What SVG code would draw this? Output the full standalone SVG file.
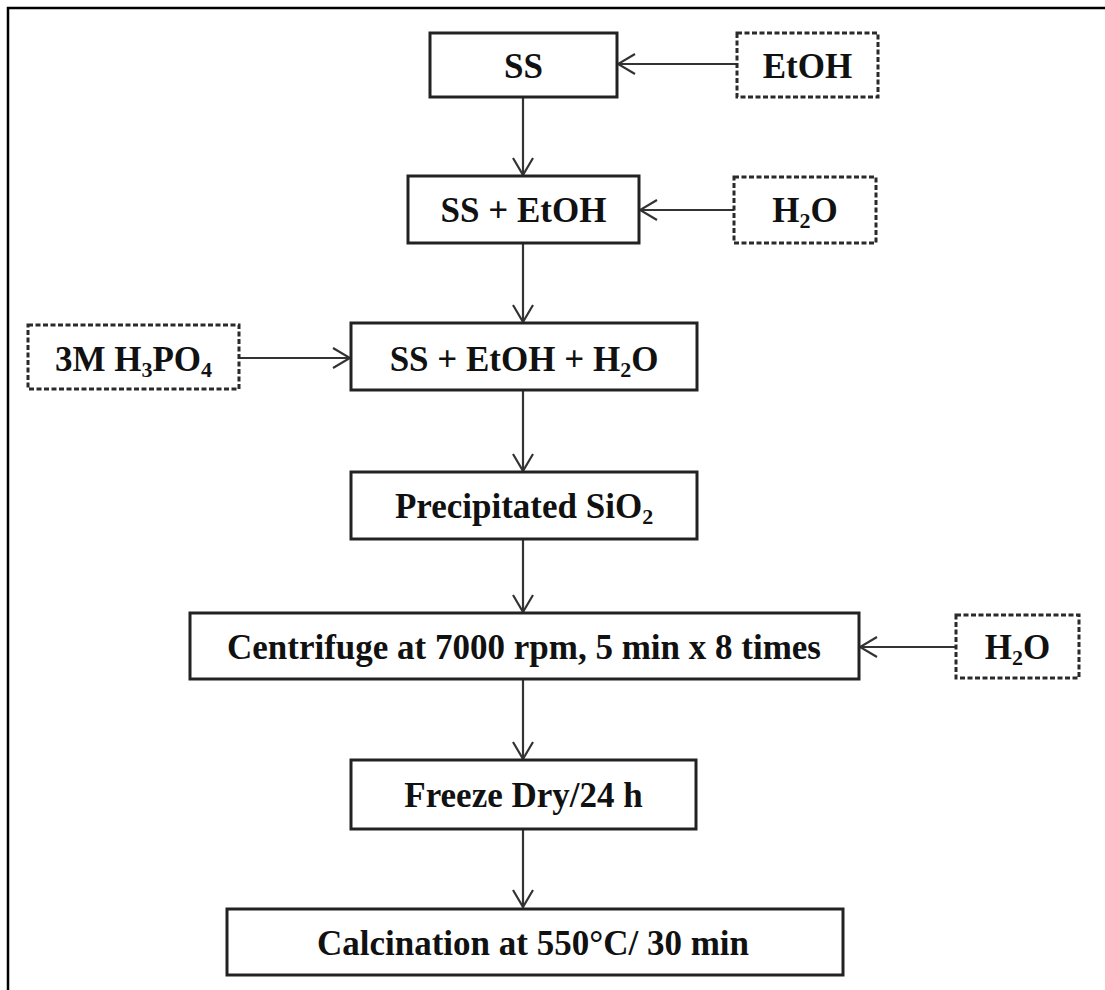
<svg xmlns="http://www.w3.org/2000/svg" width="1105" height="990" viewBox="0 0 1105 990">
<style>
.box{fill:#fff;stroke:#222;stroke-width:3}
.dash{fill:#fff;stroke:#2a2a2a;stroke-width:3;stroke-dasharray:5 2.5}
.t{font-family:"Liberation Serif","Times New Roman",serif;font-weight:bold;font-size:35px;fill:#111;text-anchor:middle}
.sub{font-size:22px}
.c{stroke:#333;stroke-width:2.2;fill:none}
</style>
<defs>
<marker id="ah" viewBox="-20 -12 22 24" refX="0" refY="0" markerWidth="22" markerHeight="24" markerUnits="userSpaceOnUse" orient="auto">
<path d="M-17,-10 L0,0 L-17,10" fill="none" stroke="#333" stroke-width="2.2"/>
</marker>
</defs>
<rect width="1105" height="990" fill="#fff"/>
<path d="M8,990 V8 H1105" fill="none" stroke="#000" stroke-width="2.5"/>

<g id="connectors">
<line class="c" x1="737" y1="64" x2="618" y2="64" marker-end="url(#ah)"/>
<line class="c" x1="523" y1="97" x2="523" y2="175" marker-end="url(#ah)"/>
<line class="c" x1="734" y1="210" x2="640" y2="210" marker-end="url(#ah)"/>
<line class="c" x1="523" y1="243" x2="523" y2="322" marker-end="url(#ah)"/>
<line class="c" x1="239" y1="358" x2="350" y2="358" marker-end="url(#ah)"/>
<line class="c" x1="523" y1="390" x2="523" y2="471" marker-end="url(#ah)"/>
<line class="c" x1="523" y1="539" x2="523" y2="612" marker-end="url(#ah)"/>
<line class="c" x1="956" y1="647" x2="860" y2="647" marker-end="url(#ah)"/>
<line class="c" x1="523" y1="679" x2="523" y2="759" marker-end="url(#ah)"/>
<line class="c" x1="523" y1="829" x2="523" y2="907" marker-end="url(#ah)"/>
</g>

<g id="ss">
<rect class="box" x="430" y="33" width="187" height="64"/>
<text class="t" x="523.5" y="78">SS</text>
</g>
<g id="etoh">
<rect class="dash" x="737" y="33" width="141" height="64"/>
<text class="t" x="807.5" y="78">EtOH</text>
</g>
<g id="ss-etoh">
<rect class="box" x="408" y="176" width="231" height="67"/>
<text class="t" x="523.5" y="222">SS + EtOH</text>
</g>
<g id="h2o-1">
<rect class="dash" x="734" y="177" width="142" height="66"/>
<text class="t" x="805" y="222">H<tspan class="sub" dy="6">2</tspan><tspan dy="-6">O</tspan></text>
</g>
<g id="h3po4">
<rect class="dash" x="28" y="325" width="211" height="64"/>
<text class="t" x="133.5" y="371">3M H<tspan class="sub" dy="6">3</tspan><tspan dy="-6">PO</tspan><tspan class="sub" dy="6">4</tspan></text>
</g>
<g id="ss-etoh-h2o">
<rect class="box" x="351" y="323" width="346" height="67"/>
<text class="t" x="524" y="371">SS + EtOH + H<tspan class="sub" dy="6">2</tspan><tspan dy="-6">O</tspan></text>
</g>
<g id="sio2">
<rect class="box" x="351" y="472" width="346" height="67"/>
<text class="t" x="524" y="518">Precipitated SiO<tspan class="sub" dy="6">2</tspan></text>
</g>
<g id="centrifuge">
<rect class="box" x="190" y="613" width="669" height="66"/>
<text class="t" x="524" y="659">Centrifuge at 7000 rpm, 5 min x 8 times</text>
</g>
<g id="h2o-2">
<rect class="dash" x="956" y="615" width="123" height="63"/>
<text class="t" x="1017.5" y="659">H<tspan class="sub" dy="6">2</tspan><tspan dy="-6">O</tspan></text>
</g>
<g id="freeze">
<rect class="box" x="351" y="760" width="345" height="69"/>
<text class="t" x="523.5" y="807">Freeze Dry/24 h</text>
</g>
<g id="calcination">
<rect class="box" x="227" y="909" width="616" height="66"/>
<text class="t" x="533" y="955">Calcination at 550°C/ 30 min</text>
</g>
</svg>
